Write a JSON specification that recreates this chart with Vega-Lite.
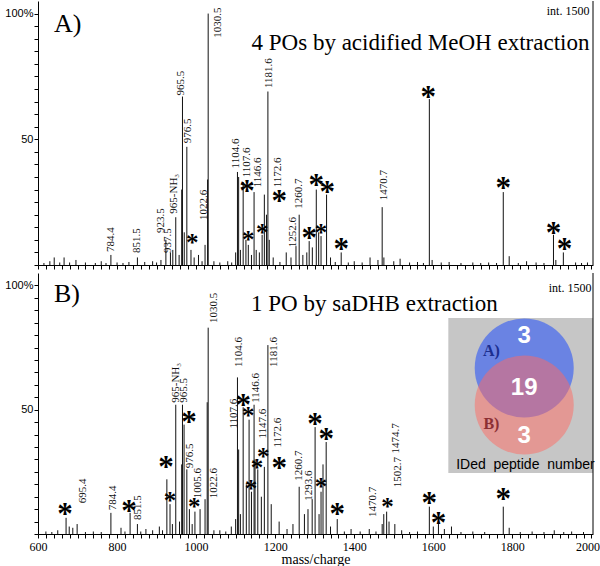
{
 "$schema": "https://vega.github.io/schema/vega-lite/v6.json",
 "padding": {"left": 4, "top": 0, "right": 0, "bottom": 0},
 "background": "white",
 "config": {"view": {"stroke": null}},
 "bounds": "flush",
 "spacing": 8,
 "datasets": {
  "peaksA": [{"mz":615,"y":0.8},{"mz":630,"y":1.5},{"mz":641,"y":3},{"mz":655,"y":1},{"mz":666,"y":3},{"mz":680,"y":1},{"mz":696,"y":2},{"mz":720,"y":1},{"mz":745,"y":0.8},{"mz":760,"y":1.5},{"mz":772,"y":0.8},{"mz":784.4,"y":4},{"mz":800,"y":1},{"mz":815,"y":0.8},{"mz":830,"y":1.2},{"mz":851.5,"y":3},{"mz":870,"y":1.2},{"mz":890,"y":1.5},{"mz":900,"y":1},{"mz":911,"y":2},{"mz":923.5,"y":10},{"mz":935,"y":5},{"mz":941,"y":6},{"mz":948.5,"y":19},{"mz":957,"y":4},{"mz":963.5,"y":30},{"mz":965.5,"y":67},{"mz":970,"y":13},{"mz":976.5,"y":47},{"mz":987,"y":6},{"mz":995,"y":3},{"mz":1006,"y":4},{"mz":1015,"y":1.5},{"mz":1022.6,"y":8},{"mz":1029,"y":34},{"mz":1030.5,"y":100},{"mz":1045,"y":1.5},{"mz":1060,"y":1},{"mz":1080,"y":1.5},{"mz":1090,"y":1},{"mz":1100,"y":5},{"mz":1104.6,"y":37},{"mz":1107.6,"y":35},{"mz":1112,"y":6},{"mz":1119,"y":33},{"mz":1126,"y":10},{"mz":1132,"y":8},{"mz":1140,"y":4},{"mz":1146.6,"y":29},{"mz":1152,"y":6},{"mz":1160,"y":5},{"mz":1167,"y":12},{"mz":1172.6,"y":28},{"mz":1178,"y":20},{"mz":1181.6,"y":69},{"mz":1185,"y":10},{"mz":1195,"y":3},{"mz":1212,"y":1.2},{"mz":1228,"y":5},{"mz":1240,"y":3},{"mz":1252.6,"y":7.5},{"mz":1260.7,"y":20},{"mz":1270,"y":4},{"mz":1280,"y":5},{"mz":1286,"y":9.5},{"mz":1294,"y":7},{"mz":1304,"y":30},{"mz":1310,"y":13},{"mz":1316,"y":11.5},{"mz":1330,"y":28},{"mz":1340,"y":3},{"mz":1352,"y":1.2},{"mz":1367,"y":5},{"mz":1385,"y":1},{"mz":1400,"y":1.5},{"mz":1420,"y":1},{"mz":1440,"y":3},{"mz":1460,"y":2},{"mz":1470.7,"y":23},{"mz":1475,"y":3},{"mz":1500,"y":1.5},{"mz":1516,"y":2.5},{"mz":1540,"y":1},{"mz":1560,"y":1.2},{"mz":1575,"y":0.8},{"mz":1590,"y":66},{"mz":1597,"y":2},{"mz":1620,"y":1},{"mz":1640,"y":1.2},{"mz":1670,"y":0.8},{"mz":1700,"y":1},{"mz":1720,"y":0.8},{"mz":1740,"y":1},{"mz":1760,"y":0.8},{"mz":1777,"y":29},{"mz":1792,"y":3.5},{"mz":1815,"y":0.8},{"mz":1836,"y":1.5},{"mz":1860,"y":1},{"mz":1880,"y":0.8},{"mz":1904,"y":12},{"mz":1910,"y":2},{"mz":1929,"y":5},{"mz":1960,"y":1},{"mz":1975,"y":0.8},{"mz":1990,"y":1}],
  "labelsA": [{"mz":785,"y":4.8,"t":"784.4"},{"mz":851,"y":4.4,"t":"851.5"},{"mz":911,"y":12.3,"t":"923.5"},{"mz":929,"y":4.4,"t":"937.5"},{"mz":944,"y":20,"t":"965-NH₃"},{"mz":962,"y":67,"t":"965.5"},{"mz":980,"y":48,"t":"976.5"},{"mz":1020,"y":17.5,"t":"1022.6"},{"mz":1056,"y":90,"t":"1030.5"},{"mz":1101,"y":38,"t":"1104.6"},{"mz":1129,"y":34.5,"t":"1107.6"},{"mz":1157,"y":30.5,"t":"1146.6"},{"mz":1208,"y":30.5,"t":"1172.6"},{"mz":1185,"y":70,"t":"1181.6"},{"mz":1246,"y":6.7,"t":"1252.6"},{"mz":1261,"y":22,"t":"1260.7"},{"mz":1476,"y":25.4,"t":"1470.7"}],
  "starsA": [{"mz":1129,"y":31.3},{"mz":1210,"y":27.4},{"mz":1286,"y":12.7},{"mz":1304,"y":33.7},{"mz":1332,"y":31},{"mz":1367,"y":8.3},{"mz":1587,"y":69},{"mz":1777,"y":32.5},{"mz":1904,"y":14.7},{"mz":1932,"y":8.3}],
  "smallStarsA": [{"mz":990,"y":10.3},{"mz":1132,"y":11.5},{"mz":1167,"y":14.3},{"mz":1316,"y":14.3}],
  "peaksB": [{"mz":620,"y":1},{"mz":635,"y":0.8},{"mz":650,"y":1.5},{"mz":671,"y":6.5},{"mz":679,"y":3},{"mz":688,"y":2.5},{"mz":699,"y":4},{"mz":720,"y":0.8},{"mz":740,"y":1},{"mz":760,"y":0.8},{"mz":784.4,"y":8.5},{"mz":810,"y":2.5},{"mz":820,"y":1},{"mz":833,"y":8.5},{"mz":851.5,"y":4},{"mz":860,"y":1},{"mz":873,"y":2},{"mz":890,"y":1.5},{"mz":907,"y":3},{"mz":915,"y":1.5},{"mz":926,"y":22},{"mz":934,"y":12},{"mz":940,"y":4},{"mz":948.5,"y":52},{"mz":958,"y":5},{"mz":963.5,"y":28},{"mz":965.5,"y":52},{"mz":969.5,"y":44},{"mz":976.5,"y":26},{"mz":983,"y":10},{"mz":990,"y":4},{"mz":997,"y":9},{"mz":1010,"y":10},{"mz":1022.6,"y":14},{"mz":1028,"y":53},{"mz":1030.5,"y":83},{"mz":1045,"y":1.5},{"mz":1060,"y":1.5},{"mz":1075,"y":1},{"mz":1089,"y":3},{"mz":1100,"y":6},{"mz":1104.6,"y":63},{"mz":1107.6,"y":34},{"mz":1112,"y":8},{"mz":1119,"y":51},{"mz":1127,"y":20},{"mz":1134,"y":46},{"mz":1140,"y":17},{"mz":1146.6,"y":52},{"mz":1149,"y":30},{"mz":1156,"y":26},{"mz":1165,"y":15},{"mz":1172.6,"y":27},{"mz":1181.6,"y":76},{"mz":1190,"y":12},{"mz":1210,"y":5},{"mz":1230,"y":2},{"mz":1245,"y":4},{"mz":1260.7,"y":19},{"mz":1274,"y":8},{"mz":1283,"y":10},{"mz":1293.6,"y":14},{"mz":1301,"y":43},{"mz":1311,"y":8},{"mz":1316,"y":17},{"mz":1321,"y":28},{"mz":1329,"y":37},{"mz":1340,"y":3},{"mz":1357,"y":6},{"mz":1375,"y":1},{"mz":1392,"y":2},{"mz":1415,"y":1},{"mz":1438,"y":2},{"mz":1455,"y":1},{"mz":1470.7,"y":4},{"mz":1474.7,"y":8},{"mz":1482,"y":9},{"mz":1488,"y":5},{"mz":1502.7,"y":4},{"mz":1520,"y":1.5},{"mz":1540,"y":0.8},{"mz":1560,"y":1},{"mz":1590,"y":11},{"mz":1600,"y":3},{"mz":1613,"y":4},{"mz":1628,"y":2},{"mz":1646,"y":3},{"mz":1670,"y":0.8},{"mz":1700,"y":1},{"mz":1730,"y":0.8},{"mz":1777,"y":11},{"mz":1792,"y":2.5},{"mz":1820,"y":0.8},{"mz":1850,"y":1},{"mz":1880,"y":0.8},{"mz":1906,"y":1.5},{"mz":1930,"y":0.8},{"mz":1950,"y":1},{"mz":1980,"y":0.8}],
  "labelsB": [{"mz":714,"y":12,"t":"695.4"},{"mz":790,"y":9.2,"t":"784.4"},{"mz":853,"y":5.2,"t":"851.5"},{"mz":949,"y":52.4,"t":"965-NH₃"},{"mz":969,"y":52.4,"t":"965.5"},{"mz":985,"y":26,"t":"976.5"},{"mz":1005,"y":14,"t":"1005.6"},{"mz":1045,"y":14,"t":"1022.6"},{"mz":1046,"y":84.5,"t":"1030.5"},{"mz":1109,"y":66.8,"t":"1104.6"},{"mz":1097,"y":42,"t":"1107.6"},{"mz":1152,"y":52.4,"t":"1146.6"},{"mz":1169,"y":38,"t":"1147.6"},{"mz":1208,"y":34.4,"t":"1172.6"},{"mz":1198,"y":66.8,"t":"1181.6"},{"mz":1261,"y":21,"t":"1260.7"},{"mz":1286,"y":13,"t":"1293.6"},{"mz":1448,"y":6.4,"t":"1470.7"},{"mz":1506,"y":32,"t":"1474.7"},{"mz":1511,"y":18.4,"t":"1502.7"}],
  "starsB": [{"mz":668,"y":10},{"mz":830,"y":11.2},{"mz":924,"y":29},{"mz":982,"y":47},{"mz":1119,"y":54},{"mz":1210,"y":28.4},{"mz":1301,"y":46.4},{"mz":1329,"y":40.4},{"mz":1357,"y":10},{"mz":1590,"y":14.4},{"mz":1613,"y":6.4},{"mz":1777,"y":16}],
  "smallStarsB": [{"mz":934,"y":15},{"mz":995,"y":12.4},{"mz":1132,"y":49},{"mz":1139,"y":19.6},{"mz":1154,"y":28},{"mz":1170,"y":32.4},{"mz":1316,"y":20.4},{"mz":1484,"y":12.4}]
 },
 "vconcat": [
  {
   "width": 555, "height": 264,
   "encoding": {
    "x": {"field": "mz", "type": "quantitative", "scale": {"domain": [600, 2004], "nice": false, "zero": false},
      "axis": {"title": null, "labels": false, "values": [600,620,640,660,680,700,720,740,760,780,800,820,840,860,880,900,920,940,960,980,1000,1020,1040,1060,1080,1100,1120,1140,1160,1180,1200,1220,1240,1260,1280,1300,1320,1340,1360,1380,1400,1420,1440,1460,1480,1500,1520,1540,1560,1580,1600,1620,1640,1660,1680,1700,1720,1740,1760,1780,1800,1820,1840,1860,1880,1900,1920,1940,1960,1980,2000], "tickSize": 4, "tickColor": "#000", "domainColor": "#000", "grid": false}},
    "y": {"field": "y", "type": "quantitative", "scale": {"domain": [0, 105], "nice": false, "zero": false},
      "axis": {"title": null, "values": [0,5,10,15,20,25,30,35,40,45,50,55,60,65,70,75,80,85,90,95,100], "labelExpr": "datum.value == 100 ? '100%' : (datum.value == 50 ? '50' : '')", "labelOverlap": false, "labelBound": false, "labelFont": "Liberation Sans", "labelFontSize": 11, "labelColor": "#000", "labelPadding": 1, "tickSize": 4, "tickColor": "#000", "domainColor": "#000", "grid": false}}
   },
   "layer": [
    {"data": {"name": "peaksA"}, "mark": {"type": "rule", "color": "#111", "strokeWidth": 1}, "encoding": {"y2": {"datum": 0}}},
    {"data": {"name": "labelsA"}, "mark": {"type": "text", "angle": 270, "align": "left", "baseline": "middle", "font": "Liberation Serif", "fontSize": 11, "color": "#111", "dx": 1}, "encoding": {"text": {"field": "t"}}},
    {"data": {"name": "starsA"}, "mark": {"type": "text", "text": "*", "font": "Liberation Serif", "fontWeight": "bold", "fontSize": 31, "baseline": "alphabetic", "dy": 15, "color": "#000"}},
    {"data": {"name": "smallStarsA"}, "mark": {"type": "text", "text": "*", "font": "Liberation Serif", "fontWeight": "bold", "fontSize": 25, "baseline": "alphabetic", "dy": 12, "color": "#000"}},
    {"data": {"values": [{"mz": 2004, "y": 105}]}, "mark": {"type": "rule", "color": "#000", "strokeWidth": 1}, "encoding": {"y2": {"datum": 0}}},
    {"data": {"values": [{"mz": 640.5, "y": 95.9, "t": "A)"}]}, "mark": {"type": "text", "font": "Liberation Serif", "fontSize": 26, "align": "left", "baseline": "middle", "color": "#000"}, "encoding": {"text": {"field": "t"}}},
    {"data": {"values": [{"mz": 1995, "y": 88.3, "t": "4 POs by acidified MeOH extraction"}]}, "mark": {"type": "text", "font": "Liberation Serif", "fontSize": 23, "align": "right", "baseline": "middle", "color": "#000"}, "encoding": {"text": {"field": "t"}}},
    {"data": {"values": [{"mz": 1995, "y": 101, "t": "int. 1500"}]}, "mark": {"type": "text", "font": "Liberation Serif", "fontSize": 12, "align": "right", "baseline": "middle", "color": "#000"}, "encoding": {"text": {"field": "t"}}}
   ]
  },
  {
   "width": 555, "height": 261,
   "encoding": {
    "x": {"field": "mz", "type": "quantitative", "scale": {"domain": [600, 2004], "nice": false, "zero": false},
      "axis": {"title": "mass/charge", "titleFont": "Liberation Serif", "titleFontSize": 14, "titleFontWeight": "normal", "titleColor": "#000", "titlePadding": 0, "format": "d", "labelExpr": "datum.value % 200 == 0 ? datum.label : ''", "labelOverlap": false, "labelBound": false, "labelFlush": false, "labelAlign": {"condition": {"test": "datum.value == 2000", "value": "right"}, "value": "center"}, "labelOffset": {"condition": {"test": "datum.value == 2000", "value": 8}, "value": 0}, "labelFont": "Liberation Serif", "labelFontSize": 12, "labelColor": "#000", "labelPadding": 3, "values": [600,620,640,660,680,700,720,740,760,780,800,820,840,860,880,900,920,940,960,980,1000,1020,1040,1060,1080,1100,1120,1140,1160,1180,1200,1220,1240,1260,1280,1300,1320,1340,1360,1380,1400,1420,1440,1460,1480,1500,1520,1540,1560,1580,1600,1620,1640,1660,1680,1700,1720,1740,1760,1780,1800,1820,1840,1860,1880,1900,1920,1940,1960,1980,2000], "tickSize": 4, "tickColor": "#000", "domainColor": "#000", "grid": false}},
    "y": {"field": "y", "type": "quantitative", "scale": {"domain": [0, 105], "nice": false, "zero": false},
      "axis": {"title": null, "values": [0,5,10,15,20,25,30,35,40,45,50,55,60,65,70,75,80,85,90,95,100], "labelExpr": "datum.value == 100 ? '100%' : (datum.value == 50 ? '50' : '')", "labelOverlap": false, "labelBound": false, "labelFont": "Liberation Sans", "labelFontSize": 11, "labelColor": "#000", "labelPadding": 1, "tickSize": 4, "tickColor": "#000", "domainColor": "#000", "grid": false}}
   },
   "layer": [
    {"data": {"name": "peaksB"}, "mark": {"type": "rule", "color": "#111", "strokeWidth": 1}, "encoding": {"y2": {"datum": 0}}},
    {"data": {"name": "labelsB"}, "mark": {"type": "text", "angle": 270, "align": "left", "baseline": "middle", "font": "Liberation Serif", "fontSize": 11, "color": "#111", "dx": 1}, "encoding": {"text": {"field": "t"}}},
    {"data": {"name": "starsB"}, "mark": {"type": "text", "text": "*", "font": "Liberation Serif", "fontWeight": "bold", "fontSize": 31, "baseline": "alphabetic", "dy": 15, "color": "#000"}},
    {"data": {"name": "smallStarsB"}, "mark": {"type": "text", "text": "*", "font": "Liberation Serif", "fontWeight": "bold", "fontSize": 25, "baseline": "alphabetic", "dy": 12, "color": "#000"}},
    {"data": {"values": [{"mz": 1638, "y": 86.9, "mz2": 2004, "y2": 24.5}]}, "mark": {"type": "rect", "color": "#c6c6c6"}, "encoding": {"x2": {"field": "mz2"}, "y2": {"field": "y2"}}},
    {"data": {"values": [{"mz": 1830, "y": 66.8}]}, "mark": {"type": "point", "shape": "circle", "filled": true, "size": 9801, "color": "#6a83e3", "opacity": 1}},
    {"data": {"values": [{"mz": 1830, "y": 51.9}]}, "mark": {"type": "point", "shape": "circle", "filled": true, "size": 9801, "color": "#ff6a62", "opacity": 0.5}},
    {"data": {"values": [{"mz": 1830, "y": 79.6, "t": "3"}, {"mz": 1830, "y": 58.7, "t": "19"}, {"mz": 1830, "y": 39.4, "t": "3"}]}, "mark": {"type": "text", "font": "Liberation Sans", "fontWeight": "bold", "fontSize": 24, "align": "center", "baseline": "middle", "color": "#fff"}, "encoding": {"text": {"field": "t"}}},
    {"data": {"values": [{"mz": 1747, "y": 73.6, "t": "A)"}]}, "mark": {"type": "text", "font": "Liberation Serif", "fontWeight": "bold", "fontSize": 16, "align": "center", "baseline": "middle", "color": "#1c2f8f"}, "encoding": {"text": {"field": "t"}}},
    {"data": {"values": [{"mz": 1747, "y": 44.2, "t": "B)"}]}, "mark": {"type": "text", "font": "Liberation Serif", "fontWeight": "bold", "fontSize": 16, "align": "center", "baseline": "middle", "color": "#8c2f33"}, "encoding": {"text": {"field": "t"}}},
    {"data": {"values": [{"mz": 1833, "y": 27.8, "t": "IDed\u00a0\u00a0peptide\u00a0\u00a0number"}]}, "mark": {"type": "text", "font": "Liberation Sans", "fontSize": 14, "align": "center", "baseline": "middle", "color": "#000"}, "encoding": {"text": {"field": "t"}}},
    {"data": {"values": [{"mz": 2004, "y": 105}]}, "mark": {"type": "rule", "color": "#000", "strokeWidth": 1}, "encoding": {"y2": {"datum": 0}}},
    {"data": {"values": [{"mz": 640.5, "y": 96.5, "t": "B)"}]}, "mark": {"type": "text", "font": "Liberation Serif", "fontSize": 26, "align": "left", "baseline": "middle", "color": "#000"}, "encoding": {"text": {"field": "t"}}},
    {"data": {"values": [{"mz": 1139, "y": 92.5, "t": "1 PO by saDHB extraction"}]}, "mark": {"type": "text", "font": "Liberation Serif", "fontSize": 23, "align": "left", "baseline": "middle", "color": "#000"}, "encoding": {"text": {"field": "t"}}},
    {"data": {"values": [{"mz": 2000, "y": 99, "t": "int. 1500"}]}, "mark": {"type": "text", "font": "Liberation Serif", "fontSize": 12, "align": "right", "baseline": "middle", "color": "#000"}, "encoding": {"text": {"field": "t"}}}
   ]
  }
 ]
}
